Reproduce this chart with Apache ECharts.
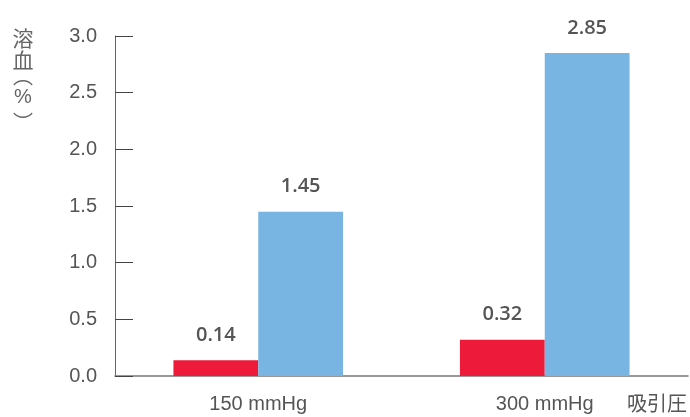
<!DOCTYPE html>
<html>
<head>
<meta charset="utf-8">
<script src="https://cdn.jsdelivr.net/npm/echarts@6/dist/echarts.min.js"></script>
<style>
html,body{margin:0;padding:0;background:#fff;}
#chart{width:690px;height:417px;}
</style>
</head>
<body>
<div id="chart"></div>
<script>
const categories = ['150 mmHg', '300 mmHg'];
const redValues = [0.14, 0.32];
const blueValues = [1.45, 2.85];
const yTicks = [0, 0.5, 1.0, 1.5, 2.0, 2.5, 3.0];
const yAxisTitleChars = ['溶', '血'];
const yAxisUnit = ['︵', '%', '︶'];
const xAxisTitle = '吸引圧';

const chart = echarts.init(document.getElementById('chart'));
const labelStyle = {
  show: true, position: 'top', distance: 15,
  fontFamily: 'Open Sans', fontWeight: 600, fontSize: 20, color: '#555',
  formatter: p => p.value.toFixed(2)
};
const txt = (s, x, y, size, font) => ({
  type: 'text', x: x, y: y,
  style: {text: s, align: 'center', verticalAlign: 'middle', fontFamily: font, fontSize: size, fill: '#666'}
});
chart.setOption({
  animation: false,
  grid: {left: 115, right: 0, top: 36, bottom: 41, containLabel: false},
  xAxis: {
    type: 'category', data: categories,
    axisLine: {lineStyle: {color: '#777', width: 1.5}},
    axisTick: {inside: true, length: 12, lineStyle: {color: '#555'}},
    axisLabel: {margin: 18, fontFamily: 'Liberation Sans', fontSize: 20, color: '#555'},
    name: xAxisTitle, nameLocation: 'end', nameGap: -1,
    nameTextStyle: {align: 'right', verticalAlign: 'top', padding: [17, 0, 0, 0], fontFamily: 'Noto Sans CJK JP', fontSize: 20, color: '#555'}
  },
  yAxis: {
    type: 'value', min: yTicks[0], max: yTicks[yTicks.length - 1], interval: 0.5,
    axisLine: {show: true, lineStyle: {color: '#666', width: 1}},
    axisTick: {show: true, inside: true, length: 18, lineStyle: {color: '#444'}},
    splitLine: {show: false},
    axisLabel: {margin: 18, fontFamily: 'Liberation Sans', fontSize: 20, color: '#555', formatter: v => v.toFixed(1)}
  },
  graphic: [
    txt(yAxisTitleChars[0], 23, 38, 21, 'Noto Sans CJK JP'),
    txt(yAxisTitleChars[1], 23, 60, 21, 'Noto Sans CJK JP'),
    txt(yAxisUnit[0], 23, 76, 20, 'Noto Sans CJK JP'),
    txt(yAxisUnit[1], 23, 97, 20, 'Liberation Sans'),
    txt(yAxisUnit[2], 23, 122, 20, 'Noto Sans CJK JP')
  ],
  series: [
    {type: 'bar', data: redValues, barWidth: '29.6%', barGap: '0%', itemStyle: {color: '#EE1A3A'}, label: labelStyle},
    {type: 'bar', data: blueValues, barWidth: '29.6%', barGap: '0%', itemStyle: {color: '#78B5E3'}, label: labelStyle}
  ]
});
</script>
</body>
</html>
